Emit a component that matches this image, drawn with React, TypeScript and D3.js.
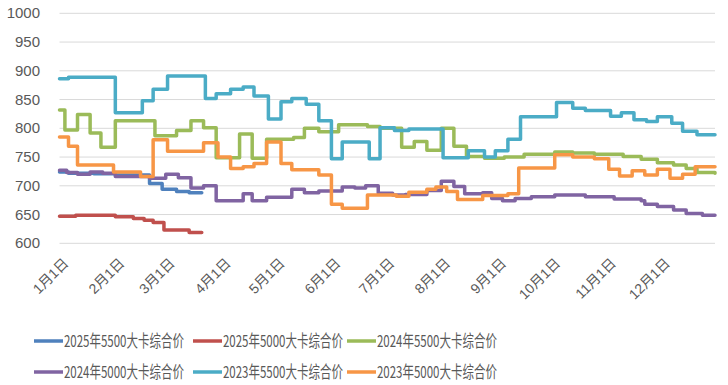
import React, { useRef, useEffect } from "react";
import * as d3 from "d3";

// y axis ticks and month labels
const yTicks = [600, 650, 700, 750, 800, 850, 900, 950, 1000];
const monthLabels = ["1月1日", "2月1日", "3月1日", "4月1日", "5月1日", "6月1日", "7月1日", "8月1日", "9月1日", "10月1日", "11月1日", "12月1日"];

const seriesNames = ["2025年5500大卡综合价", "2025年5000大卡综合价", "2024年5500大卡综合价", "2024年5000大卡综合价", "2023年5500大卡综合价", "2023年5000大卡综合价"];
const seriesColors = ["#4f81bd", "#c0504d", "#9bbb59", "#8064a2", "#4bacc6", "#f79646"];

// price change points (month-day, value)
const p2025_5500: [string, number][] = [
	["01-01", 724], ["01-06", 722], ["01-20", 721], ["02-01", 719], ["02-20", 704], ["02-27", 694],
	["03-07", 690], ["03-14", 688], ["03-21", 688]
];
const p2025_5000: [string, number][] = [
	["01-01", 647], ["01-10", 649], ["02-01", 646], ["02-11", 643], ["02-17", 640], ["02-22", 636],
	["02-28", 623], ["03-14", 619], ["03-21", 619]
];
const p2024_5500: [string, number][] = [
	["01-01", 832], ["01-04", 797], ["01-11", 824], ["01-18", 792], ["01-24", 767], ["02-01", 813],
	["02-23", 787], ["03-07", 796], ["03-15", 813], ["03-22", 801], ["03-29", 749], ["04-11", 790],
	["04-18", 748], ["04-26", 781], ["05-11", 784], ["05-17", 800], ["05-25", 794], ["06-05", 806],
	["06-21", 803], ["06-28", 800], ["07-10", 767], ["07-17", 777], ["07-24", 762], ["08-01", 800],
	["08-08", 769], ["08-15", 751], ["08-25", 748], ["09-05", 750], ["09-16", 755], ["10-03", 759],
	["10-13", 757], ["10-25", 755], ["11-10", 751], ["11-20", 746], ["11-29", 740], ["12-08", 736],
	["12-15", 730], ["12-21", 723], ["12-31", 722]
];
const p2024_5000: [string, number][] = [
	["01-01", 727], ["01-05", 723], ["01-11", 720], ["01-18", 724], ["01-25", 722], ["02-01", 716],
	["02-20", 713], ["03-01", 720], ["03-08", 714], ["03-15", 696], ["03-22", 700], ["03-29", 674],
	["04-13", 686], ["04-18", 674], ["04-26", 680], ["05-10", 694], ["05-17", 688], ["05-25", 691],
	["06-07", 698], ["06-14", 696], ["06-20", 700], ["06-27", 687], ["07-05", 684], ["07-12", 685],
	["07-24", 692], ["08-01", 708], ["08-08", 699], ["08-14", 686], ["08-24", 688], ["08-29", 678],
	["09-04", 674], ["09-11", 678], ["09-20", 681], ["10-03", 684], ["10-20", 681], ["11-05", 677],
	["11-20", 674], ["11-22", 668], ["11-29", 664], ["12-08", 658], ["12-15", 652], ["12-24", 649],
	["12-31", 649]
];
const p2023_5500: [string, number][] = [
	["01-01", 886], ["01-06", 889], ["02-01", 827], ["02-16", 848], ["02-22", 868], ["03-02", 891],
	["03-23", 852], ["03-29", 860], ["04-06", 868], ["04-13", 872], ["04-19", 856], ["04-27", 816],
	["05-04", 846], ["05-10", 852], ["05-18", 842], ["05-25", 813], ["06-01", 747], ["06-07", 776],
	["06-22", 747], ["06-28", 801], ["07-06", 796], ["07-14", 799], ["08-02", 749], ["08-16", 761],
	["08-25", 750], ["08-31", 761], ["09-07", 781], ["09-14", 820], ["10-04", 845], ["10-13", 835],
	["10-20", 831], ["11-03", 821], ["11-09", 827], ["11-16", 815], ["11-23", 812], ["11-29", 820],
	["12-07", 809], ["12-13", 795], ["12-21", 789], ["12-31", 789]
];
const p2023_5000: [string, number][] = [
	["01-01", 785], ["01-06", 769], ["01-11", 736], ["01-31", 724], ["02-15", 716], ["02-22", 780],
	["03-02", 760], ["03-22", 775], ["03-30", 750], ["04-06", 730], ["04-13", 733], ["04-19", 739],
	["04-26", 776], ["05-04", 739], ["05-10", 728], ["05-25", 719], ["06-01", 668], ["06-07", 661],
	["06-21", 684], ["07-07", 682], ["07-14", 689], ["07-24", 694], ["07-29", 698], ["08-04", 690],
	["08-10", 676], ["08-24", 683], ["09-07", 686], ["09-13", 731], ["10-03", 754], ["10-13", 750],
	["10-25", 747], ["11-02", 729], ["11-08", 717], ["11-15", 726], ["11-22", 719], ["11-29", 729],
	["12-06", 713], ["12-13", 720], ["12-20", 733], ["12-31", 733]
];

const App = () => {
	const chartRef = useRef<SVGSVGElement>(null);

	useEffect(() => {
		const width = 728;
		const height = 385;
		const plot = { left: 59.5, right: 715, top: 13.3, bottom: 243.3 };
		const font = "'Liberation Sans', 'Noto Sans CJK SC', sans-serif";

		const svg = d3.select(chartRef.current).attr("width", width).attr("height", height);
		svg.selectAll("*").remove();

		const parse = (md: string) => d3.timeParse("%Y-%m-%d")("2023-" + md) as Date;

		const xScale = d3.scaleTime()
			.domain([new Date(2023, 0, 1), new Date(2023, 11, 31)])
			.range([plot.left, plot.right]);

		const yScale = d3.scaleLinear()
			.domain([600, 1000])
			.range([plot.bottom, plot.top]);

		// gridlines
		svg.append("g")
			.selectAll("line")
			.data(yTicks)
			.enter()
			.append("line")
			.attr("x1", plot.left)
			.attr("x2", plot.right)
			.attr("y1", d => yScale(d))
			.attr("y2", d => yScale(d))
			.attr("stroke", "#d9d9d9")
			.attr("stroke-width", 1);

		// y labels
		svg.append("g")
			.selectAll("text")
			.data(yTicks)
			.enter()
			.append("text")
			.attr("x", 40)
			.attr("y", d => yScale(d) + 5)
			.attr("text-anchor", "end")
			.attr("font-family", font)
			.attr("font-size", 15)
			.attr("fill", "#595959")
			.text(d => d);

		// month labels
		const monthDates = d3.timeMonth.range(new Date(2023, 0, 1), new Date(2023, 11, 31));
		svg.append("g")
			.selectAll("text")
			.data(monthDates)
			.enter()
			.append("text")
			.attr("transform", d => `translate(${xScale(d) + 10}, 264) rotate(-45)`)
			.attr("text-anchor", "end")
			.attr("font-family", font)
			.attr("font-size", 14)
			.attr("fill", "#595959")
			.text((d, i) => monthLabels[i]);

		// lines
		const allSeries = [p2025_5500, p2025_5000, p2024_5500, p2024_5000, p2023_5500, p2023_5000];
		const line = d3.line<[string, number]>()
			.x(d => xScale(parse(d[0])))
			.y(d => yScale(d[1]))
			.curve(d3.curveStepAfter);

		svg.append("g")
			.selectAll("path")
			.data(allSeries)
			.enter()
			.append("path")
			.attr("d", d => line(d))
			.attr("fill", "none")
			.attr("stroke", (d, i) => seriesColors[i])
			.attr("stroke-width", 3.5)
			.attr("stroke-linejoin", "round")
			.attr("stroke-linecap", "round");

		// legend
		const legendX = [34, 193, 347];
		const legendY = [341, 372];
		const legend = svg.append("g")
			.selectAll("g")
			.data(seriesNames)
			.enter()
			.append("g")
			.attr("transform", (d, i) => `translate(${legendX[i % 3]}, ${legendY[Math.floor(i / 3)]})`);

		legend.append("line")
			.attr("x1", 0)
			.attr("x2", 29)
			.attr("stroke", (d, i) => seriesColors[i])
			.attr("stroke-width", 3.5);

		// squeeze the label horizontally to the narrow width seen in the original
		legend.append("text")
			.attr("y", 6)
			.attr("font-family", "'Liberation Sans Narrow', 'Noto Sans CJK SC', sans-serif")
			.attr("font-size", 16.5)
			.attr("fill", "#595959")
			.text(d => d)
			.attr("transform", function () {
				const w = (this as SVGTextElement).getComputedTextLength() || 120;
				return `translate(30, 0) scale(${120 / w}, 1)`;
			});
	}, []);

	return <svg ref={chartRef} style={{ position: "absolute", left: 0, top: 0 }}></svg>;
};

export default App;
